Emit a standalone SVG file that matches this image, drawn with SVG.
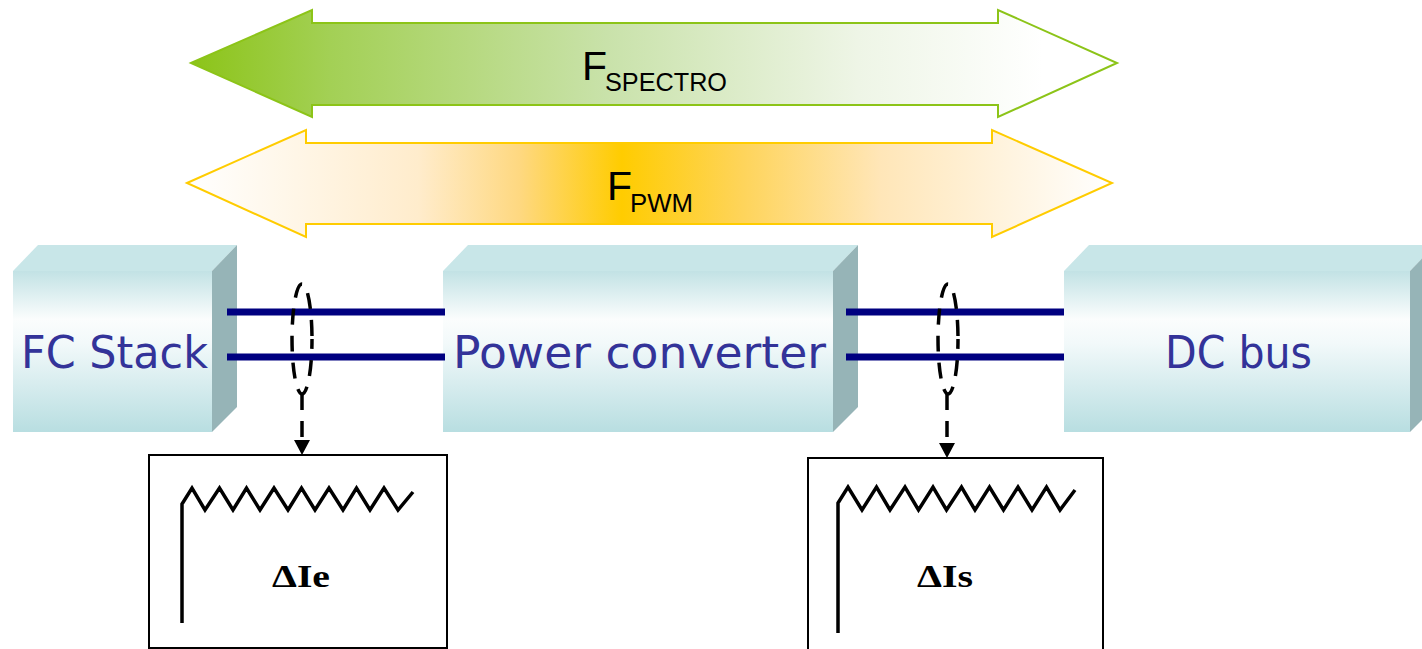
<svg xmlns="http://www.w3.org/2000/svg" width="1422" height="649" viewBox="0 0 1422 649">
<defs>
<linearGradient id="gGreen" gradientUnits="userSpaceOnUse" x1="191" y1="0" x2="1117" y2="0">
<stop offset="0" stop-color="#8cc418"/>
<stop offset="0.15" stop-color="#a3d055"/>
<stop offset="0.45" stop-color="#c9e2aa"/>
<stop offset="0.72" stop-color="#eef5e6"/>
<stop offset="0.92" stop-color="#ffffff"/>
<stop offset="1" stop-color="#ffffff"/>
</linearGradient>
<linearGradient id="gYellow" gradientUnits="userSpaceOnUse" x1="187" y1="0" x2="1112" y2="0">
<stop offset="0" stop-color="#ffffff"/>
<stop offset="0.25" stop-color="#ffeccc"/>
<stop offset="0.36" stop-color="#fed880"/>
<stop offset="0.47" stop-color="#ffcc00"/>
<stop offset="0.6" stop-color="#fed45a"/>
<stop offset="0.75" stop-color="#ffe6b8"/>
<stop offset="1" stop-color="#ffffff"/>
</linearGradient>
<linearGradient id="gFront" x1="0" y1="0" x2="0" y2="1">
<stop offset="0" stop-color="#c2e2e5"/>
<stop offset="0.3" stop-color="#fbfdfd"/>
<stop offset="0.45" stop-color="#f2f9fa"/>
<stop offset="1" stop-color="#b8dee1"/>
</linearGradient>
</defs>
<style>
.top{fill:#c8e6e8}
.side{fill:#96b4b7}
.front{fill:url(#gFront)}
.lbl{font-family:"DejaVu Sans","Liberation Sans",sans-serif;font-size:44px;fill:#333399}
.flbl{font-family:"Liberation Sans","Open Sans",sans-serif;fill:#000}
.bus{stroke:#000080;stroke-width:7;fill:none}
.dash{stroke:#000;stroke-width:3.5;fill:none;stroke-dasharray:16 11}
.scope{fill:#fff;stroke:#000;stroke-width:2}
.wave{fill:none;stroke:#000;stroke-width:3.5;stroke-linejoin:miter}
.delta{font-family:"Liberation Serif","DejaVu Serif",serif;font-size:31px;font-weight:bold;fill:#000}
.head{fill:#000}
</style>

<g id="f-spectro">
<polygon points="191,63 312,10 312,23 998,23 998,10 1117,63 998,117 998,105 312,105 312,117" fill="url(#gGreen)" stroke="#8cc418" stroke-width="2"/>
<text class="flbl"><tspan x="582" y="80" font-size="41">F</tspan><tspan x="605" y="91" font-size="26" textLength="122" lengthAdjust="spacingAndGlyphs">SPECTRO</tspan></text>
</g>

<g id="f-pwm">
<polygon points="187,183 306,130 306,143 992,143 992,130 1112,183 992,237 992,224 306,224 306,237" fill="url(#gYellow)" stroke="#ffcc00" stroke-width="2"/>
<text class="flbl"><tspan x="607" y="200" font-size="41">F</tspan><tspan x="630" y="212" font-size="26" textLength="63" lengthAdjust="spacingAndGlyphs">PWM</tspan></text>
</g>

<g id="fc-stack">
<polygon class="top" points="13,271 38,245 237,245 212,271"/>
<polygon class="side" points="212,271 237,245 237,407 212,432"/>
<rect class="front" x="13" y="271" width="199" height="161"/>
<text class="lbl" x="21" y="368" textLength="187" lengthAdjust="spacingAndGlyphs">FC Stack</text>
</g>

<g id="power-converter">
<polygon class="top" points="443,271 468,245 858,245 833,271"/>
<polygon class="side" points="833,271 858,245 858,407 833,432"/>
<rect class="front" x="443" y="271" width="390" height="161"/>
<text class="lbl" x="453" y="368" textLength="373" lengthAdjust="spacingAndGlyphs">Power converter</text>
</g>

<g id="dc-bus">
<polygon class="top" points="1064,271 1089,245 1435,245 1410,271"/>
<polygon class="side" points="1410,271 1435,245 1435,407 1410,432"/>
<rect class="front" x="1064" y="271" width="346" height="161"/>
<text class="lbl" x="1165" y="368" textLength="147" lengthAdjust="spacingAndGlyphs">DC bus</text>
</g>

<g id="scope-ie">
<rect class="scope" x="149" y="455" width="298" height="193"/>
<path class="wave" d="M182,623 L182,504 L192,488 L205,510 L219.5,488 L233,510 L246.5,488 L260,510 L274,488 L288,510 L301.5,488 L315,510 L329,488 L343,510 L356.5,488 L370,510 L384,488 L398,510 L413,492"/>
<text class="delta" x="272" y="587" textLength="58" lengthAdjust="spacingAndGlyphs">ΔIe</text>
</g>

<g id="scope-is">
<rect class="scope" x="808" y="458" width="295" height="210"/>
<path class="wave" d="M838,633 L838,503 L848,487 L862,510 L876.5,487 L890,510 L905,487 L918.5,510 L933,487 L946.5,510 L961.5,487 L975,510 L989.5,487 L1003.5,510 L1018,487 L1032,510 L1046.5,487 L1060,510 L1075,490"/>
<text class="delta" x="917" y="587" textLength="56" lengthAdjust="spacingAndGlyphs">ΔIs</text>
</g>

<g id="connectors">
<line class="bus" x1="227" y1="312" x2="445" y2="312"/>
<line class="bus" x1="227" y1="357" x2="445" y2="357"/>
<line class="bus" x1="846" y1="312" x2="1064" y2="312"/>
<line class="bus" x1="846" y1="357" x2="1064" y2="357"/>
<ellipse class="dash" cx="302" cy="339" rx="10" ry="55" stroke-dashoffset="6"/>
<ellipse class="dash" cx="948" cy="339" rx="10" ry="55" stroke-dashoffset="6"/>
<line class="dash" x1="302" y1="394" x2="302" y2="440" stroke-dasharray="14 10"/>
<line class="dash" x1="947" y1="394" x2="947" y2="443" stroke-dasharray="14 10"/>
<path class="head" d="M294,440 L310,440 L302,455 Z"/>
<path class="head" d="M939,443 L955,443 L947,458 Z"/>
</g>
</svg>
